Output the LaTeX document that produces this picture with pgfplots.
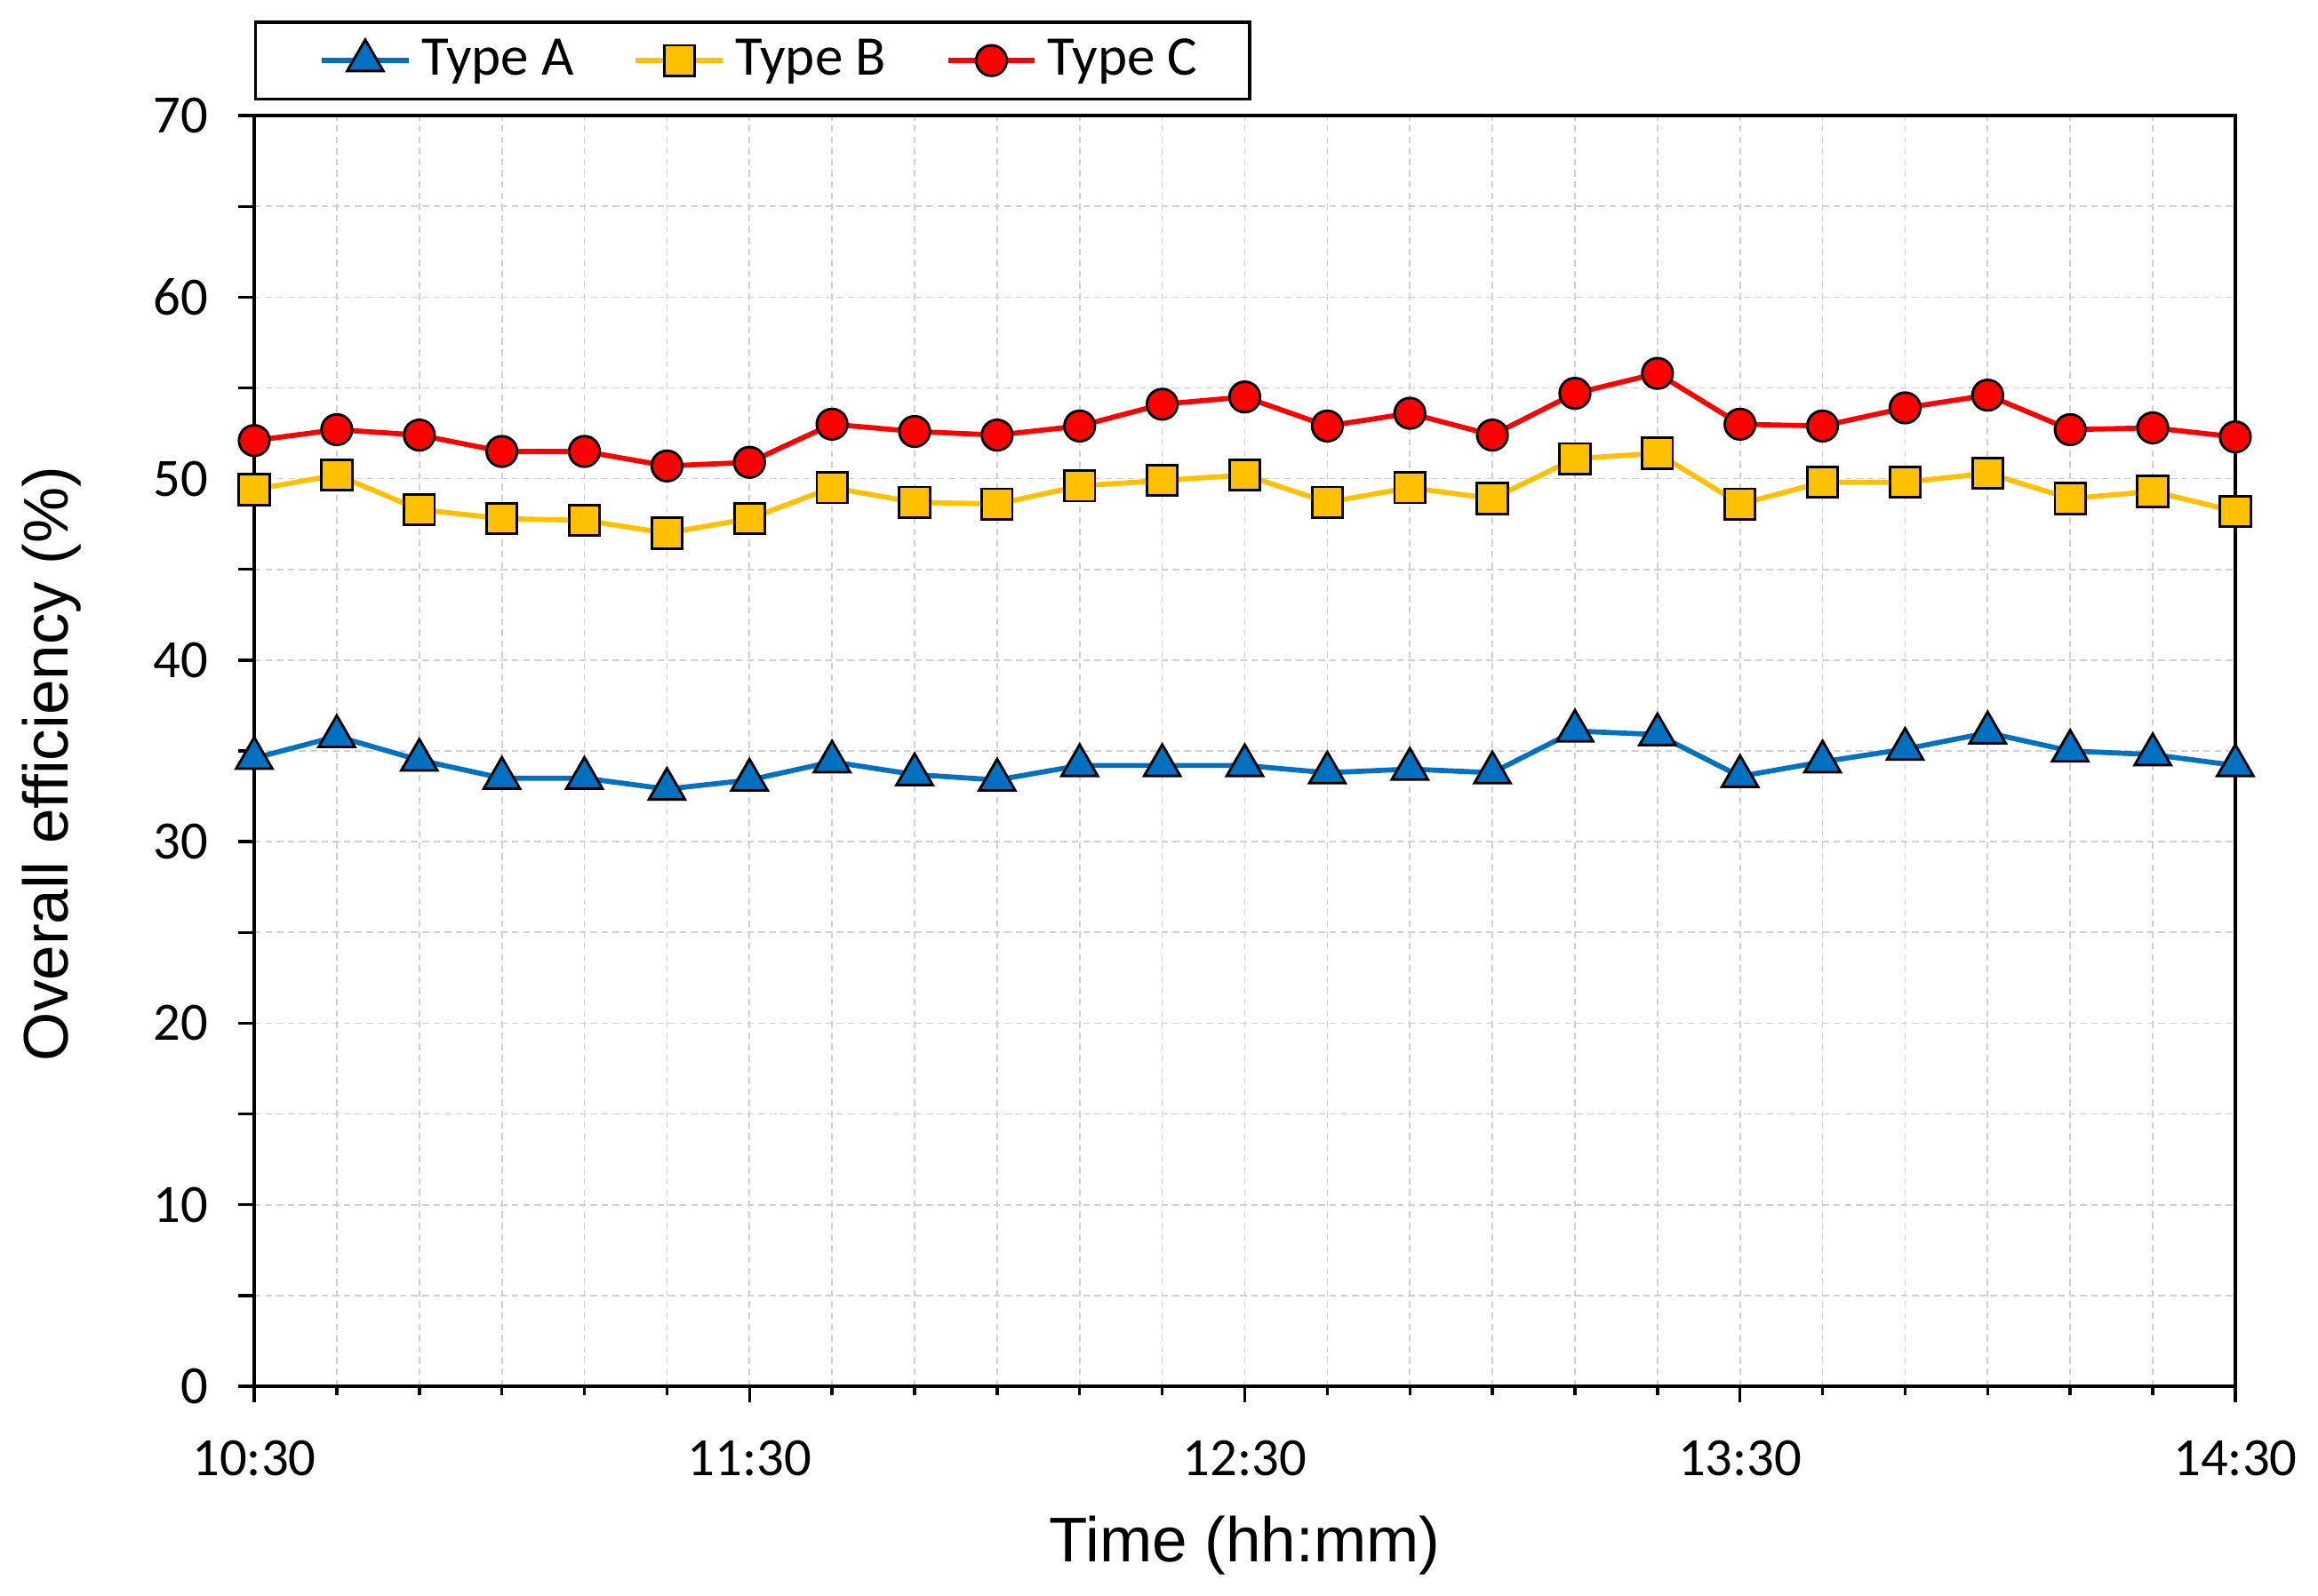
\documentclass[border=0pt]{standalone}
\usepackage{fontspec}
\setmainfont{Liberation Sans}
\newfontfamily\calfont{Carlito}
\usepackage{pgfplots}
\pgfplotsset{compat=1.18}

\definecolor{typeA}{HTML}{0070C0}
\definecolor{typeB}{HTML}{FFC000}
\definecolor{typeC}{HTML}{FF0000}
\definecolor{gridgray}{HTML}{D0D0D0}

% minutes after 10:30, overall efficiency in %
\pgfplotstableread{
t   a     b     c
0   34.6  49.4  52.1
10  35.8  50.2  52.7
20  34.5  48.3  52.4
30  33.5  47.8  51.5
40  33.5  47.7  51.5
50  32.9  47.0  50.7
60  33.4  47.8  50.9
70  34.4  49.5  53.0
80  33.7  48.7  52.6
90  33.4  48.6  52.4
100 34.2  49.6  52.9
110 34.2  49.9  54.1
120 34.2  50.2  54.5
130 33.8  48.7  52.9
140 34.0  49.5  53.6
150 33.8  48.9  52.4
160 36.1  51.1  54.7
170 35.9  51.4  55.8
180 33.6  48.6  53.0
190 34.4  49.8  52.9
200 35.1  49.8  53.9
210 36.0  50.3  54.6
220 35.0  48.9  52.7
230 34.8  49.3  52.8
240 34.2  48.2  52.3
}\efftable
\usepackage{pgfplotstable}

\begin{document}
\begin{tikzpicture}
\useasboundingbox (-1.755cm,-1.442cm) rectangle (14.246cm,9.571cm);
\begin{axis}[
    scale only axis,
    width=13.675cm, height=8.773cm,
    xmin=0, xmax=240, ymin=0, ymax=70,
    xtick={0,60,...,240},
    xticklabels={10:30,11:30,12:30,13:30,14:30},
    minor xtick={0,10,...,240},
    ytick={0,5,...,70},
    yticklabels={0,,10,,20,,30,,40,,50,,60,,70},
    xtick pos=lower, ytick pos=left,
    tick align=outside,
    major tick length=3.2pt,
    minor tick length=1.8pt,
    tick style={black, line width=0.6pt},
    axis line style={line width=0.6pt},
    grid=both,
    major grid style={gridgray, line width=0.3pt, dash pattern=on 1.3pt off 0.9pt},
    minor grid style={gridgray, line width=0.3pt, dash pattern=on 1.3pt off 0.9pt},
    ticklabel style={font=\calfont\fontsize{10.6}{12}\selectfont},
    xticklabel style={yshift=-0.14cm},
    yticklabel style={xshift=-0.08cm},
    xlabel={Time (hh:mm)},
    ylabel={Overall efficiency (\%)},
    label style={font=\fontsize{12.4}{14}\selectfont},
    xlabel style={at={(axis description cs:0.5,-0.1252)}, anchor=center},
    ylabel style={at={(axis description cs:-0.1021,0.49)}, anchor=center},
    legend style={at={(axis description cs:0,1.012)}, anchor=south west,
        legend columns=3, draw=black, line width=0.6pt,
        font=\calfont\fontsize{11}{13}\selectfont,
        inner xsep=8.2pt, inner ysep=1.2pt,
        /tikz/every even column/.append style={column sep=0.19cm}},
    legend image code/.code={
        \path (-0.15cm,0cm);
        \draw[mark repeat=2, mark phase=2] plot coordinates {(0cm,0cm) (0.3cm,0cm) (0.6cm,0cm)};
    },
]
\addplot[typeA, line width=1pt, mark=triangle*, mark size=4.1pt,
    mark options={fill=typeA, draw=black, line width=0.5pt}]
    table[x=t, y=a] {\efftable};
\addlegendentry{Type A}
\addplot[typeB, line width=1pt, mark=square*, mark size=3pt,
    mark options={fill=typeB, draw=black, line width=0.5pt}]
    table[x=t, y=b] {\efftable};
\addlegendentry{Type B}
\addplot[typeC, line width=1pt, mark=*, mark size=3pt,
    mark options={fill=typeC, draw=black, line width=0.5pt}]
    table[x=t, y=c] {\efftable};
\addlegendentry{Type C}
\end{axis}
\end{tikzpicture}
\end{document}
